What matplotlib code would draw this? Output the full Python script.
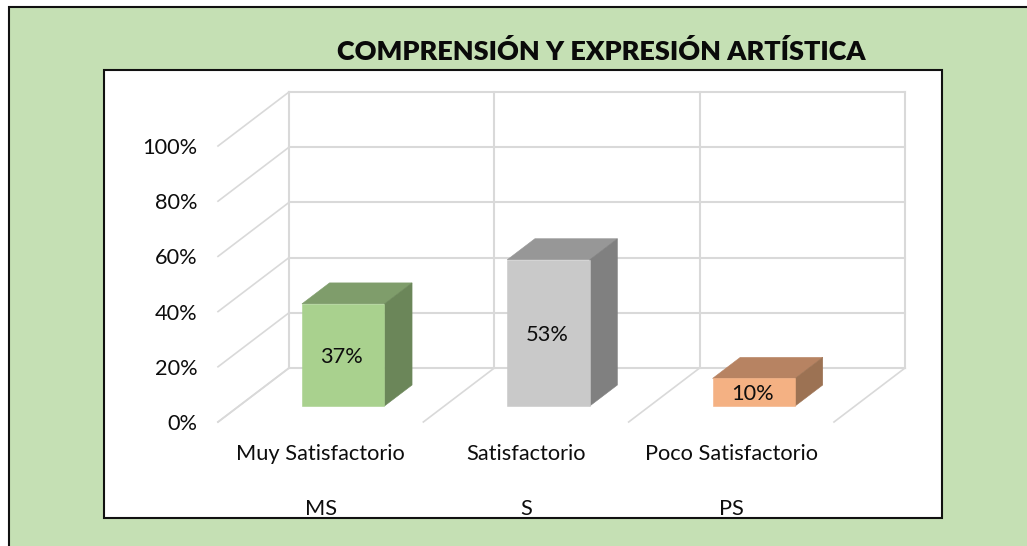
import matplotlib
matplotlib.use("Agg")
import matplotlib.pyplot as plt
from matplotlib.patches import Rectangle, Polygon

plt.rcParams['font.family'] = ['Lato', 'DejaVu Sans']

# ---- data ----
title = "COMPRENSIÓN Y EXPRESIÓN ARTÍSTICA"
categories = ["Muy Satisfactorio", "Satisfactorio", "Poco Satisfactorio"]
codes = ["MS", "S", "PS"]
values = [37, 53, 10]
y_ticks = [0, 20, 40, 60, 80, 100]

# ---- style ----
W, H = 1027, 546
GREEN_BG = "#C5E0B4"
GRID = "#D9D9D9"
INK = "#0D0D0D"
FS = 15.7
fronts = ["#A9D18E", "#C9C9C9", "#F4B183"]
tops = ["#7F9D6B", "#979797", "#B78362"]
sides = ["#6B8659", "#808080", "#9C7253"]
SLOT = 205.33          # px per category on the front plane
DEPTH_X = 71 / SLOT    # full depth shift, category units
DEPTH_Y = 54 / 276 * 100  # full depth shift, percent units
BAR_W = 82.5 / SLOT
D_FRONT, D_BACK = 0.296, 0.685
XOFF = 1.5 / SLOT
LABEL_DROP = 0.7       # percent units, optical centring of the value labels

fig = plt.figure(figsize=(W / 100, H / 100), dpi=100, facecolor="white")


def box(x0, y0, x1, y1, face, lw=1.5, z=-2):
    fig.add_artist(Rectangle((x0 / W, 1 - y1 / H), (x1 - x0) / W, (y1 - y0) / H,
                             transform=fig.transFigure, facecolor=face,
                             edgecolor="#111111", linewidth=lw, zorder=z))


box(9, 7, 1040, 560, GREEN_BG, z=-2)
box(104, 70, 942, 518, "white", z=-1)

ax = fig.add_axes([218 / W, 1 - 422 / H, 616 / W, 276 / H])
ax.patch.set_alpha(0)
ax.set_xlim(-0.5, 2.5)
ax.set_ylim(0, 100)
for s in ax.spines.values():
    s.set_visible(False)


def pj(x, y, d):
    return x + d * DEPTH_X, y + d * DEPTH_Y


# gridlines: back wall, side wall, floor
n = len(categories)
left, right = -0.5, n - 0.5
for t in y_ticks:
    xs, ys = zip(pj(left, t, 0), pj(left, t, 1), pj(right, t, 1))
    ax.plot(xs[1:], ys[1:], color=GRID, lw=1.5, clip_on=False, zorder=1)
    ax.plot(xs[:2], ys[:2], color=GRID, lw=1.2, clip_on=False, zorder=1)
for i in range(n + 1):
    xb = left + i
    xs, ys = zip(pj(xb, y_ticks[0], 1), pj(xb, y_ticks[-1], 1))
    ax.plot(xs, ys, color=GRID, lw=1.5, clip_on=False, zorder=1)
    xs, ys = zip(pj(xb, 0, 0), pj(xb, 0, 1))
    ax.plot(xs, ys, color=GRID, lw=1.2, clip_on=False, zorder=1)

# 3-D bars
for i, v in enumerate(values):
    c = i + XOFF
    x0, x1 = c - BAR_W / 2, c + BAR_W / 2
    a = pj(x0, 0, D_FRONT)
    b = pj(x1, 0, D_FRONT)
    tl = pj(x0, v, D_FRONT)
    tr = pj(x1, v, D_FRONT)
    tlb = pj(x0, v, D_BACK)
    trb = pj(x1, v, D_BACK)
    bb = pj(x1, 0, D_BACK)
    for pts, col in (((tl, tr, trb, tlb), tops[i]),
                     ((b, bb, trb, tr), sides[i]),
                     ((a, b, tr, tl), fronts[i])):
        ax.add_patch(Polygon(pts, closed=True, facecolor=col, edgecolor=col,
                             linewidth=0.4, clip_on=False, zorder=3))
    cx, cy = pj(c, v / 2, D_FRONT)
    ax.text(cx - 0.008, cy - LABEL_DROP, f"{v}%", ha="center", va="center",
            fontsize=FS, color=INK, zorder=4)

# axes labels
ax.set_yticks(y_ticks, [f"{t}%" for t in y_ticks], fontsize=FS, color=INK)
ax.tick_params(axis="y", length=0, pad=15)
ax.set_xticks(range(n), categories, fontsize=FS, color=INK)
ax.tick_params(axis="x", length=0, pad=16)
for i, code in enumerate(codes):
    ax.annotate(code, (i, 0), xytext=(0, -87 * 0.72), textcoords="offset points",
                ha="center", va="center", fontsize=FS, color=INK, annotation_clip=False)

fig.text(601 / W, 1 - 51 / H, title, ha="center", va="center",
         fontsize=19.45, fontweight="heavy", color="#0A0A0A")

fig.savefig("out.png", dpi=100, facecolor=fig.get_facecolor())
